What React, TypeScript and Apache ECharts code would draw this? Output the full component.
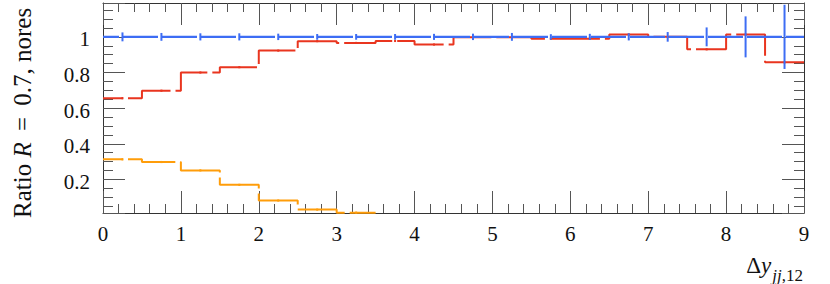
import React, { useEffect, useRef } from "react";
import * as echarts from "echarts";

// Bin edges of Δy_{jj,12}
const binEdges = [0, 0.5, 1, 1.5, 2, 2.5, 3, 3.5, 4, 4.5, 5, 5.5, 6, 6.5, 7, 7.5, 8, 8.5, 9];

// Reference (blue) ratio and its uncertainties
const blueRatio = [1, 1, 1, 1, 1, 1, 1, 1, 1, 1, 1, 1, 1, 1, 1, 1, 1, 1];
const blueErr = [0.025, 0.022, 0.02, 0.02, 0.018, 0.016, 0.016, 0.016, 0.017, 0.018, 0.022, 0.015, 0.017, 0.02, 0.027, 0.053, 0.115, 0.18];

// Red ratio
const redRatio = [0.656, 0.698, 0.8, 0.83, 0.923, 0.976, 0.966, 0.977, 0.957, 0.998, 0.998, 0.99, 0.99, 1.013, 1.0, 0.93, 1.013, 0.857];
const redErr = [0.006, 0.006, 0.006, 0.006, 0.006, 0.006, 0.006, 0.006, 0.006, 0.006, 0.006, 0.006, 0.006, 0.006, 0.006, 0.006, 0.006, 0.006];

// Orange ratio (only up to Δy = 3.5)
const orangeRatio = [0.313, 0.298, 0.251, 0.17, 0.082, 0.031, 0.014];
const orangeErr = [0.006, 0.006, 0.006, 0.006, 0.006, 0.006, 0.006];

// Axis title texts
const yTitleParts = ["Ratio ", "R", " = ", "0.7, nores"];
const xTitleMain = ["Δ", "y"];
const xTitleSub = ["jj", ",12"];

const BLUE = "#3d6df4";
const RED = "#e9351f";
const ORANGE = "#ff9d0a";
const FONT = "Liberation Serif";

function stepData(vals: number[]) {
  const d: number[][] = vals.map((v, i) => [binEdges[i], v]);
  d.push([binEdges[vals.length], vals[vals.length - 1]]);
  return d;
}

function errData(vals: number[], errs: number[]) {
  return vals.map((v, i) => [(binEdges[i] + binEdges[i + 1]) / 2, v, errs[i]]);
}

function errSeries(vals: number[], errs: number[], color: string, z: number) {
  return {
    type: "custom",
    xAxisIndex: 0,
    yAxisIndex: 0,
    z,
    silent: true,
    dimensions: ["x", "y", "e"],
    encode: { x: 0, y: 1 },
    data: errData(vals, errs),
    renderItem: (params: any, api: any) => {
      const x = api.value(0);
      const v = api.value(1);
      const e = api.value(2);
      const p1 = api.coord([x, v - e]);
      const p2 = api.coord([x, v + e]);
      return {
        type: "line",
        shape: { x1: p1[0], y1: p1[1], x2: p2[0], y2: p2[1] },
        style: { stroke: color, lineWidth: 2 },
      };
    },
  };
}

function measure(font: string, text: string) {
  const c = document.createElement("canvas").getContext("2d");
  if (!c) return text.length * 8;
  c.font = font;
  return c.measureText(text).width;
}

const labelRich = {
  t: { fontFamily: FONT, fontSize: 21, color: "#111" },
};

export default function App() {
  const ref = useRef<HTMLDivElement>(null);

  useEffect(() => {
    if (!ref.current) return;
    const chart = echarts.init(ref.current, null, { renderer: "svg" });

    const subW =
      measure("italic 17px 'Liberation Serif'", xTitleSub[0]) +
      measure("17px 'Liberation Serif'", xTitleSub[1]);
    const xRight = 803;

    const axisCommonX = {
      type: "value",
      min: 0,
      max: 9,
      interval: 1,
      axisLine: { show: true, onZero: false, lineStyle: { color: "#333", width: 1 } },
      axisTick: { show: true, inside: true, length: 22, lineStyle: { color: "#555", width: 1 } },
      minorTick: { show: true, splitNumber: 5, length: 9, lineStyle: { color: "#555", width: 1 } },
      splitLine: { show: false },
      minorSplitLine: { show: false },
    };
    const axisCommonY = {
      type: "value",
      min: 0.012,
      max: 1.19,
      minInterval: 0.2,
      maxInterval: 0.2,
      axisLine: { show: true, onZero: false, lineStyle: { color: "#333", width: 1 } },
      axisTick: { show: true, inside: true, length: 22, lineStyle: { color: "#555", width: 1 } },
      minorTick: { show: true, splitNumber: 4, length: 10, lineStyle: { color: "#555", width: 1 } },
      splitLine: { show: false },
      minorSplitLine: { show: false },
    };

    const option: any = {
      animation: false,
      backgroundColor: "#ffffff",
      textStyle: { fontFamily: FONT },
      grid: { left: 103, right: 26, top: 3, bottom: 71, containLabel: false },
      xAxis: [
        {
          ...axisCommonX,
          position: "bottom",
          axisLabel: {
            show: true,
            fontFamily: FONT,
            fontSize: 21,
            color: "#111",
            margin: 10,
            formatter: (v: number) => `{t|${v}}`,
            rich: labelRich,
          },
        },
        {
          ...axisCommonX,
          position: "top",
          axisLabel: { show: false },
        },
      ],
      yAxis: [
        {
          ...axisCommonY,
          position: "left",
          axisLabel: {
            show: true,
            fontFamily: FONT,
            fontSize: 21,
            color: "#111",
            margin: 13,
            showMinLabel: false,
            showMaxLabel: false,
            padding: [5, 0, 0, 0],
            formatter: (v: number) => `{t|${Math.round(v * 10) / 10}}`,
            rich: labelRich,
          },
        },
        {
          ...axisCommonY,
          position: "right",
          axisLabel: { show: false },
        },
      ],
      series: [
        {
          type: "line",
          xAxisIndex: 0,
          yAxisIndex: 0,
          step: "end",
          symbol: "none",
          z: 2,
          data: stepData(orangeRatio),
          lineStyle: { color: ORANGE, width: 2, type: [50, 5], dashOffset: 30 },
        },
        errSeries(orangeRatio, orangeErr, ORANGE, 3),
        {
          type: "line",
          xAxisIndex: 0,
          yAxisIndex: 0,
          step: "end",
          symbol: "none",
          z: 4,
          data: stepData(redRatio),
          lineStyle: { color: RED, width: 2, type: [50, 5], dashOffset: 30 },
        },
        errSeries(redRatio, redErr, RED, 5),
        {
          type: "line",
          xAxisIndex: 0,
          yAxisIndex: 0,
          step: "end",
          symbol: "none",
          z: 6,
          data: stepData(blueRatio),
          lineStyle: { color: BLUE, width: 2.4, type: [35, 4], dashOffset: 18.6 },
        },
        errSeries(blueRatio, blueErr, BLUE, 7),
      ],
      graphic: [
        {
          type: "text",
          x: 22,
          y: 218,
          rotation: Math.PI / 2,
          style: {
            text: `{a|${yTitleParts[0]}}{b|${yTitleParts[1]}}{c|${yTitleParts[2]}}{a|${yTitleParts[3]}}`,
            align: "left",
            verticalAlign: "middle",
            rich: {
              a: { fontFamily: FONT, fontSize: 25, fill: "#111" },
              b: { fontFamily: FONT, fontSize: 25, fontStyle: "italic", fill: "#111" },
              c: { fontFamily: FONT, fontSize: 25, fill: "#111", padding: [0, 5, 0, 5] },
            },
          },
        },
        {
          type: "text",
          x: xRight - subW - 1,
          y: 265.5,
          style: {
            text: `{d|${xTitleMain[0]}}{y|${xTitleMain[1]}}`,
            align: "right",
            verticalAlign: "middle",
            rich: {
              d: { fontFamily: FONT, fontSize: 23, fill: "#111" },
              y: { fontFamily: FONT, fontSize: 23, fontStyle: "italic", fill: "#111" },
            },
          },
        },
        {
          type: "text",
          x: xRight,
          y: 275,
          style: {
            text: `{j|${xTitleSub[0]}}{n|${xTitleSub[1]}}`,
            align: "right",
            verticalAlign: "middle",
            rich: {
              j: { fontFamily: FONT, fontSize: 17, fontStyle: "italic", fill: "#111" },
              n: { fontFamily: FONT, fontSize: 17, fill: "#111" },
            },
          },
        },
      ],
    };

    chart.setOption(option);
    return () => chart.dispose();
  }, []);

  return (
    <div
      ref={ref}
      style={{ position: "fixed", left: 0, top: 0, width: 830, height: 284, background: "#fff" }}
    />
  );
}
